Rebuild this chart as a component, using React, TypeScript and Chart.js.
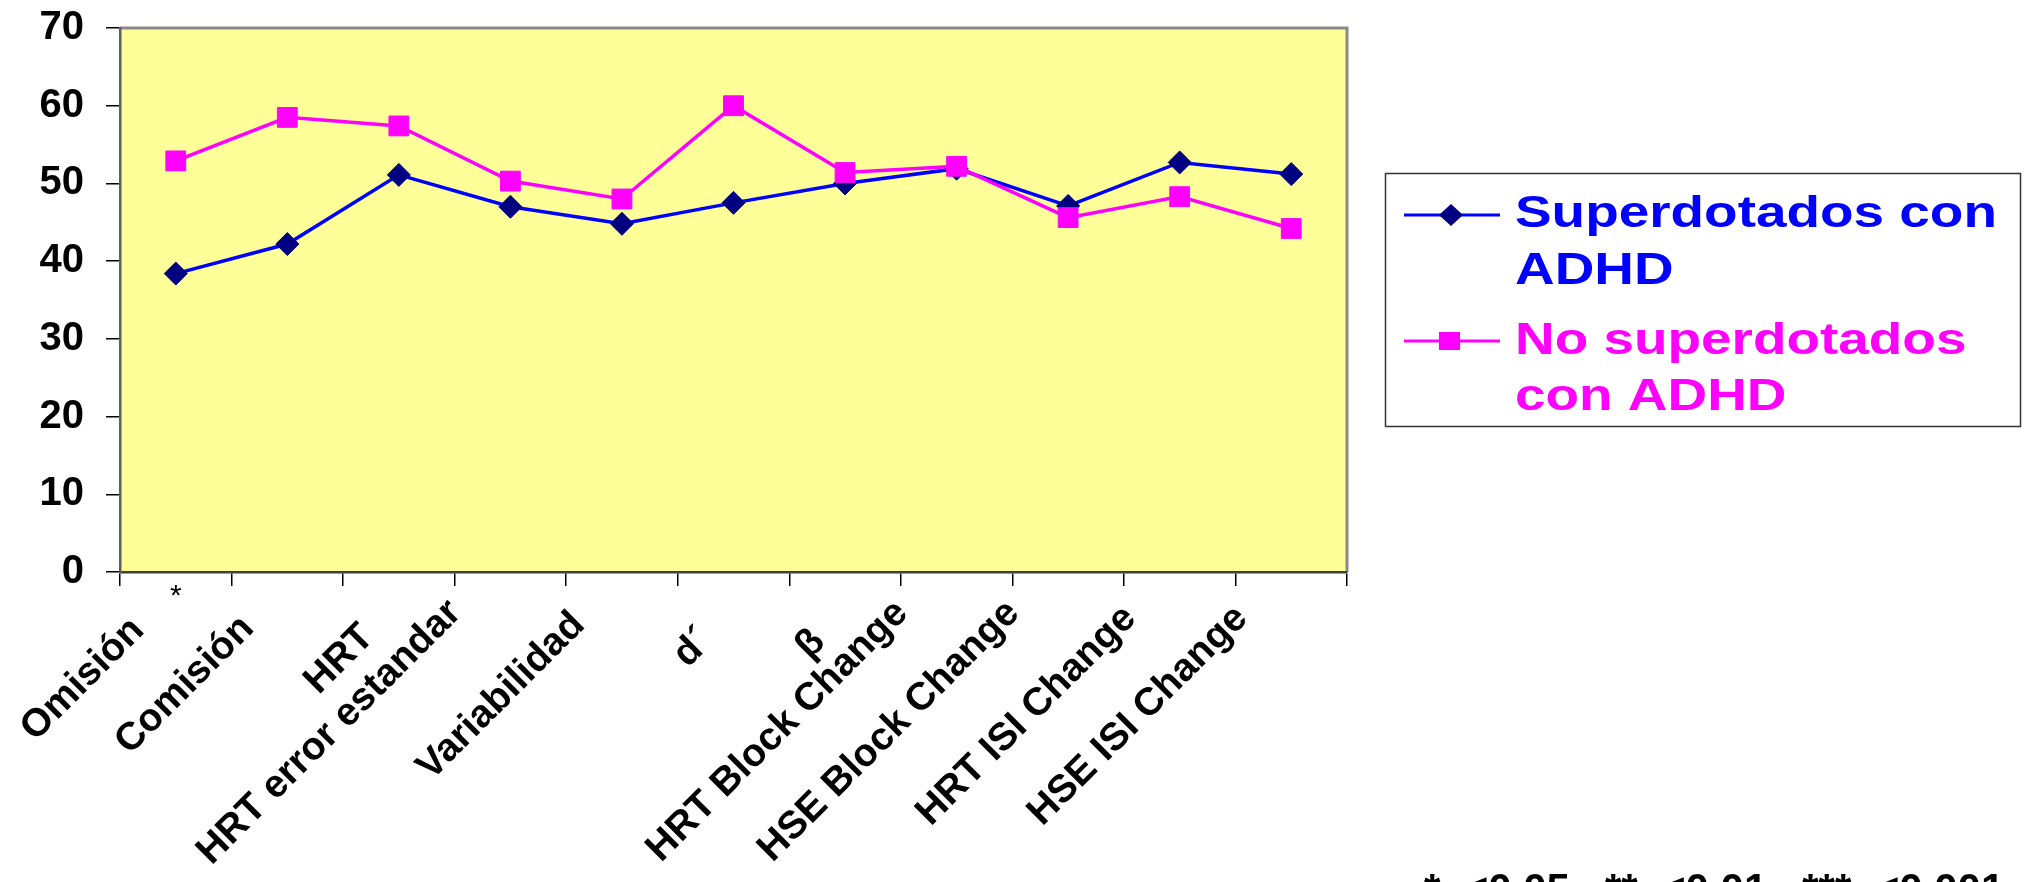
import React, { useEffect, useRef } from "react";
import { Chart, registerables } from "chart.js";

Chart.register(...registerables);

const categories = [
  "Omisión",
  "Comisión",
  "HRT",
  "HRT error estandar",
  "Variabilidad",
  "d´",
  "β",
  "HRT Block Change",
  "HSE Block Change",
  "HRT ISI Change",
  "HSE ISI Change",
];
const superdotados = [38.4, 42.2, 51.1, 47.0, 44.8, 47.5, 50.0, 51.9, 47.1, 52.7, 51.2];
const noSuperdotados = [52.9, 58.5, 57.4, 50.3, 48.0, 60.0, 51.4, 52.2, 45.6, 48.3, 44.2];
const significance = ["*", "", "", "", "", "", "", "", "", "", ""];
const yMin = 0;
const yMax = 70;
const yStep = 10;
const seriesNames = ["Superdotados con ADHD", "No superdotados con ADHD"];
const legendLines = [
  ["Superdotados con", "ADHD"],
  ["No superdotados", "con ADHD"],
];
const footnote = "*  <0.05,  **  <0.01,  ***  <0.001";

const BLUE = "#0000FF";
const NAVY = "#000080";
const PINK = "#FF00FF";
const FONT = "'Liberation Sans', Arial, sans-serif";

const W = 2024;
const H = 882;
const PLOT_TOP = 28;
const PLOT_BOTTOM = 572;
const PLOT_LEFT = 120;
const PLOT_RIGHT = 1347;

const decorPlugin = {
  id: "decor",
  beforeDraw(chart: any) {
    const { ctx, chartArea } = chart;
    ctx.save();
    ctx.fillStyle = "#FFFF99";
    ctx.fillRect(chartArea.left, chartArea.top, chartArea.right - chartArea.left, chartArea.bottom - chartArea.top);
    ctx.strokeStyle = "#8a8a8a";
    ctx.lineWidth = 3;
    ctx.beginPath();
    ctx.moveTo(chartArea.left, chartArea.top);
    ctx.lineTo(chartArea.right, chartArea.top);
    ctx.lineTo(chartArea.right, chartArea.bottom);
    ctx.stroke();
    ctx.restore();
  },
  afterDraw(chart: any) {
    const { ctx } = chart;
    const xs = chart.scales.x;
    // x tick labels, rotated 45°
    ctx.save();
    ctx.fillStyle = "#000";
    ctx.font = `bold 39px ${FONT}`;
    categories.forEach((label, i) => {
      const w = ctx.measureText(label).width;
      let x = xs.getPixelForValue(i) - 24 - 0.088 * w;
      const y = xs.top + 66 - 0.088 * w;
      const leftExtent = x - (w + 19) * Math.SQRT1_2;
      if (leftExtent < 8) x += 8 - leftExtent;
      ctx.save();
      ctx.translate(x, y);
      ctx.rotate(-Math.PI / 4);
      ctx.textAlign = "right";
      ctx.textBaseline = "middle";
      ctx.fillText(label, 0, 0);
      ctx.restore();
    });
    // significance marks
    ctx.font = `30px ${FONT}`;
    ctx.textAlign = "center";
    ctx.textBaseline = "alphabetic";
    significance.forEach((s, i) => {
      if (!s) return;
      ctx.fillText(s, xs.getPixelForValue(i), xs.top + 33);
    });
    ctx.restore();

    // legend
    ctx.save();
    ctx.strokeStyle = "#333";
    ctx.lineWidth = 1.5;
    ctx.strokeRect(1385.5, 173.5, 635, 253);
    const items = [
      { y: 215, color: BLUE, fill: NAVY, style: "diamond", base: [227, 284] },
      { y: 341, color: PINK, fill: PINK, style: "square", base: [354, 410] },
    ];
    items.forEach((it, k) => {
      ctx.strokeStyle = it.color;
      ctx.lineWidth = 3;
      ctx.beginPath();
      ctx.moveTo(1404, it.y);
      ctx.lineTo(1500, it.y);
      ctx.stroke();
      ctx.fillStyle = it.fill;
      ctx.beginPath();
      if (it.style === "diamond") {
        ctx.moveTo(1451, it.y - 11);
        ctx.lineTo(1463, it.y);
        ctx.lineTo(1451, it.y + 11);
        ctx.lineTo(1439, it.y);
        ctx.closePath();
      } else {
        ctx.rect(1439, it.y - 9, 21, 18);
      }
      ctx.fill();
      ctx.fillStyle = it.color;
      ctx.font = `bold 45px ${FONT}`;
      ctx.textAlign = "left";
      ctx.textBaseline = "alphabetic";
      legendLines[k].forEach((line, j) => {
        ctx.save();
        ctx.translate(1515, it.base[j]);
        ctx.scale(1.22, 1);
        ctx.fillText(line, 0, 0);
        ctx.restore();
      });
    });
    // footnote
    ctx.fillStyle = "#000";
    ctx.font = `bold 42px ${FONT}`;
    ctx.fillText(footnote, 1424, 903);
    ctx.restore();
  },
};

export default function App() {
  const ref = useRef<HTMLCanvasElement | null>(null);
  useEffect(() => {
    if (!ref.current) return;
    const chart = new Chart(ref.current, {
      type: "line",
      data: {
        labels: categories,
        datasets: [
          {
            label: seriesNames[0],
            data: superdotados,
            borderColor: BLUE,
            backgroundColor: NAVY,
            borderWidth: 3.5,
            pointStyle: "rectRot",
            pointRadius: 11.5,
            pointBackgroundColor: NAVY,
            pointBorderColor: NAVY,
            pointBorderWidth: 1,
            tension: 0,
            order: 1,
          },
          {
            label: seriesNames[1],
            data: noSuperdotados,
            borderColor: PINK,
            backgroundColor: PINK,
            borderWidth: 3.5,
            pointStyle: "rect",
            pointRadius: 14,
            pointBackgroundColor: PINK,
            pointBorderColor: PINK,
            pointBorderWidth: 1,
            tension: 0,
            order: 0,
          },
        ],
      },
      options: {
        animation: false,
        responsive: true,
        maintainAspectRatio: false,
        layout: { padding: { top: PLOT_TOP, right: W - PLOT_RIGHT, left: 0, bottom: 0 } },
        plugins: { legend: { display: false }, tooltip: { enabled: false } },
        scales: {
          x: {
            type: "category",
            offset: true,
            grid: { offset: true, drawOnChartArea: false, drawTicks: true, tickLength: 14, color: "#000", lineWidth: 1.5 },
            border: { display: true, color: "#404040", width: 2.5 },
            ticks: { display: false },
            afterFit: (s: any) => {
              s.height = H - PLOT_BOTTOM;
              s.paddingLeft = 0;
              s.paddingRight = 0;
            },
          },
          y: {
            min: yMin,
            max: yMax,
            ticks: { stepSize: yStep, color: "#000", font: { family: FONT, size: 40, weight: "bold" }, padding: 22 },
            grid: { drawOnChartArea: false, drawTicks: true, tickLength: 14, color: "#000", lineWidth: 1.5 },
            border: { display: true, color: "#606060", width: 2.5 },
            afterFit: (s: any) => {
              s.width = PLOT_LEFT;
              s.paddingTop = 0;
              s.paddingBottom = 0;
            },
          },
        },
      },
      plugins: [decorPlugin],
    });
    return () => chart.destroy();
  }, []);
  return (
    <div style={{ position: "fixed", left: 0, top: 0, width: W, height: H, background: "#fff" }}>
      <canvas ref={ref} />
    </div>
  );
}
